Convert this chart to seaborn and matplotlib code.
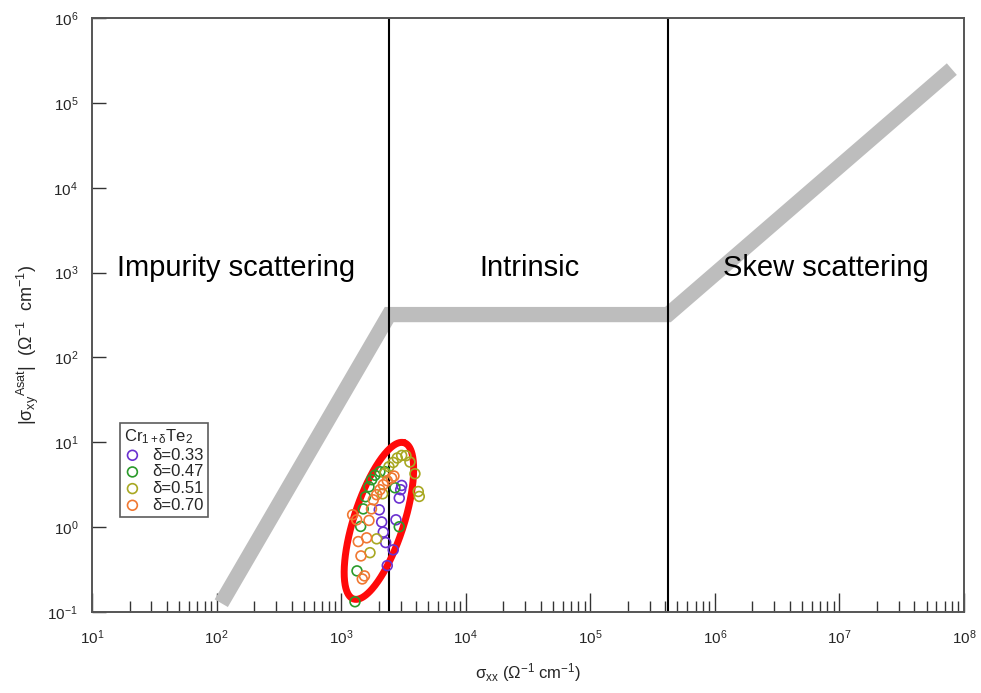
import numpy as np
import pandas as pd
import matplotlib
matplotlib.use("Agg")
import matplotlib.pyplot as plt
import seaborn as sns
from matplotlib.ticker import FixedLocator, LogFormatterMathtext, NullFormatter

# Cr(1+δ)Te2 anomalous Hall data: sigma_xx and |sigma_xy^Asat| (Ω^-1 cm^-1)
labels = ["δ=0.33", "δ=0.47", "δ=0.51", "δ=0.70"]
colors = ["#6a30d0", "#2a9a2a", "#a8a822", "#f07832"]

sxx_033 = [3060, 3004, 2926, 2022, 2114, 2178, 2276, 2754, 2618, 2344]
sxy_033 = [3.10, 2.76, 2.20, 1.60, 1.15, 0.873, 0.658, 1.22, 0.54, 0.352]

sxx_047 = [1291, 1340, 1434, 1504, 1567, 1672, 1758, 1867, 2047, 2248, 2703, 2926]
sxy_047 = [0.132, 0.305, 1.02, 1.64, 2.28, 2.99, 3.62, 4.09, 4.50, 4.50, 2.91, 1.01]

sxx_051 = [1703, 1928, 2153, 2248, 2419, 2618, 2820, 3060, 3311, 3565, 3910, 4159, 4236]
sxy_051 = [0.50, 0.728, 2.47, 4.34, 5.15, 5.79, 6.53, 7.0, 6.95, 5.85, 4.26, 2.63, 2.30]

sxx_070 = [1236, 1332, 1372, 1442, 1477, 1538, 1602, 1672, 1751, 1811, 1928, 2047, 2178, 2344, 2541, 2654]
sxy_070 = [1.40, 1.22, 0.676, 0.458, 0.245, 0.266, 0.748, 1.20, 1.64, 2.10, 2.41, 2.76, 3.16, 3.52, 3.79, 4.0]

# scaling-regime guide line (impurity -> intrinsic -> skew)
guide_x = [109, 2430, 4.2e5, 7.98e7]
guide_y = [0.127, 320, 320, 2.5e5]

# regime boundaries
boundaries = [2430, 4.2e5]

regions = ["Impurity scattering", "Intrinsic", "Skew scattering"]
region_x = [143, 3.27e4, 7.8e6]
region_y = 1120

# axis decades
x_decades = [1, 2, 3, 4, 5, 6, 7, 8]
y_decades = [-1, 0, 1, 2, 3, 4, 5, 6]

# ellipse around the data cluster, in log10 units
ell_center = (3.303, 0.074)
ell_major = (0.2034, 0.9208)
ell_minor = (-0.1908, 0.0912)

sns.set_theme(style="white")
plt.rcParams["font.family"] = ["Liberation Sans", "DejaVu Sans"]
plt.rcParams["mathtext.fontset"] = "custom"
plt.rcParams["mathtext.rm"] = "Liberation Sans"
plt.rcParams["mathtext.it"] = "Liberation Sans"
plt.rcParams["mathtext.default"] = "regular"

fig = plt.figure(figsize=(9.81, 6.93), dpi=100)
ax = fig.add_axes([0.0938, 0.1169, 0.8889, 0.8571])
ax.set_xscale("log")
ax.set_yscale("log")
ax.set_xlim(1e1, 1e8)
ax.set_ylim(1e-1, 1e6)

# guide line
guide = pd.DataFrame({"x": guide_x, "y": guide_y})
sns.lineplot(data=guide, x="x", y="y", ax=ax, color="#bdbdbd", lw=11,
             sort=False, estimator=None, solid_joinstyle="miter",
             solid_capstyle="butt", zorder=1)

for b in boundaries:
    ax.axvline(b, color="black", lw=1.5, zorder=2)

for name, xr in zip(regions, region_x):
    ax.text(xr, region_y, name, ha="center", va="center", fontsize=21, color="black")

# ellipse
t = np.linspace(0, 2 * np.pi, 300)
ex = ell_center[0] + ell_major[0] * np.cos(t) + ell_minor[0] * np.sin(t)
ey = ell_center[1] + ell_major[1] * np.cos(t) + ell_minor[1] * np.sin(t)
ax.plot(10 ** ex, 10 ** ey, color="#ff0a0a", lw=5, zorder=3)

series = [(sxx_033, sxy_033), (sxx_047, sxy_047), (sxx_051, sxy_051), (sxx_070, sxy_070)]
for (xs, ys), lab, col in zip(series, labels, colors):
    df = pd.DataFrame({"x": xs, "y": ys})
    sns.scatterplot(data=df, x="x", y="y", ax=ax, marker="o", s=50,
                    facecolors="none", edgecolor=col, linewidth=1.2,
                    label=lab, zorder=4)

leg = ax.legend(title="Cr$_{1+δ}$Te$_2$", loc="upper left",
                bbox_to_anchor=(0.032, 0.318), borderaxespad=0,
                fontsize=12, title_fontsize=12, frameon=True, fancybox=False,
                handletextpad=0.7, labelspacing=0.1, borderpad=0.25,
                handlelength=1.0, alignment="left")
leg.get_frame().set_edgecolor("#333333")
leg.get_frame().set_linewidth(1.2)

# axes frame and ticks
for sp in ax.spines.values():
    sp.set_color("#555555")
    sp.set_linewidth(1.4)

x_major = [10.0 ** d for d in x_decades]
x_minor = [m * 10.0 ** d for d in x_decades[:-1] for m in range(2, 10)]
y_major = [10.0 ** d for d in y_decades]

ax.xaxis.set_major_locator(FixedLocator(x_major))
ax.xaxis.set_minor_locator(FixedLocator(x_minor))
ax.xaxis.set_major_formatter(LogFormatterMathtext())
ax.xaxis.set_minor_formatter(NullFormatter())
ax.yaxis.set_major_locator(FixedLocator(y_major))
ax.yaxis.set_minor_locator(FixedLocator([]))
ax.yaxis.set_major_formatter(LogFormatterMathtext())
ax.yaxis.set_minor_formatter(NullFormatter())

ax.tick_params(axis="x", which="major", direction="in", length=14, width=1,
               color="#333333", labelsize=11, pad=12, bottom=True, top=False)
ax.tick_params(axis="x", which="minor", direction="in", length=8, width=1,
               color="#333333", bottom=True, top=False)
ax.tick_params(axis="y", which="major", direction="in", length=10, width=1,
               color="#333333", labelsize=11, pad=10, left=True, right=False)
ax.tick_params(axis="y", which="minor", left=False, right=False)

ax.set_xlabel("σ$_{xx}$ (Ω$^{-1}$ cm$^{-1}$)", fontsize=12, labelpad=10)
ax.set_ylabel("|σ$_{xy}$$^{ Asat}$|  (Ω$^{ -1}$  cm$^{ -1}$)", fontsize=13)
ax.yaxis.set_label_coords(-0.058, 0.45)

fig.savefig("out.png", dpi=100, facecolor="white")
